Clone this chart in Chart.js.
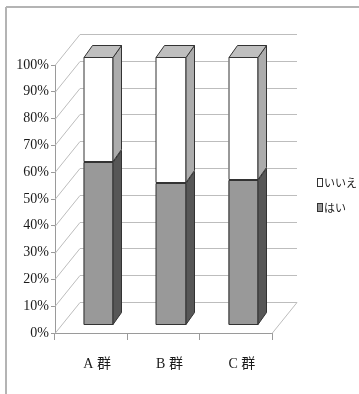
<!DOCTYPE html>
<html>
<head>
<meta charset="utf-8">
<style>
  html, body { margin: 0; padding: 0; background: #ffffff; }
  canvas { display: block; }
</style>
<script src="https://cdn.jsdelivr.net/npm/chart.js@4/dist/chart.umd.min.js"></script>
</head>
<body>
<canvas id="chart" width="359" height="394"></canvas>
<script>
// Survey answers per group, shown as 100% stacked 3D columns
const categories = ['A 群', 'B 群', 'C 群'];
const seriesNames = ['はい', 'いいえ'];
const yesValues = [61, 53, 54];
const noValues = [39, 47, 46];
const percentTicks = [0, 10, 20, 30, 40, 50, 60, 70, 80, 90, 100];

// Oblique projection offsets for the 3D look
const WALL_DEPTH = { dx: 25, dy: -31 };   // floor / side wall depth
const BAR_FRONT = { dx: 7.5, dy: -8 };    // bars sit a little behind the front plane
const BAR_DEPTH = { dx: 8.5, dy: -12 };   // thickness of each column

const serif = "'Liberation Serif', 'DejaVu Serif', 'Noto Sans CJK JP', serif";
const faces = [
  { front: '#999999', side: '#575757', top: '#bfbfbf' },
  { front: '#ffffff', side: '#acacac', top: '#bfbfbf' }
];
const edgeColor = '#333333';
const wallColor = '#bdbdbd';

function line(ctx, x1, y1, x2, y2) {
  ctx.beginPath();
  ctx.moveTo(x1, y1);
  ctx.lineTo(x2, y2);
  ctx.stroke();
}

function poly(ctx, pts, fill) {
  ctx.beginPath();
  ctx.moveTo(pts[0][0], pts[0][1]);
  for (let i = 1; i < pts.length; i++) ctx.lineTo(pts[i][0], pts[i][1]);
  ctx.closePath();
  if (fill) {
    ctx.fillStyle = fill;
    ctx.fill();
  }
  ctx.stroke();
}

const box3d = {
  id: 'box3d',
  beforeDraw(chart) {
    const ctx = chart.ctx;
    ctx.save();
    ctx.fillStyle = '#ffffff';
    ctx.fillRect(0, 0, chart.width, chart.height);
    // outer frame of the chart object
    ctx.strokeStyle = '#b4b4b4';
    ctx.lineWidth = 2;
    line(ctx, 6, 7, chart.width + 2, 7);
    line(ctx, 6, 7, 6, chart.height + 2);
    ctx.restore();
  },
  beforeDatasetsDraw(chart) {
    const ctx = chart.ctx;
    const area = chart.chartArea;
    const y = chart.scales.y;
    ctx.save();
    ctx.strokeStyle = wallColor;
    ctx.lineWidth = 1;
    percentTicks.forEach(v => {
      const py = Math.round(y.getPixelForValue(v)) + 0.5;
      const bx = area.left + WALL_DEPTH.dx;
      const by = py + WALL_DEPTH.dy;
      line(ctx, area.left, py, bx, by);                          // side wall
      line(ctx, bx, by, area.right + WALL_DEPTH.dx, by);          // back wall
    });
    // right edge of the floor
    const fy = Math.round(y.getPixelForValue(0)) + 0.5;
    line(ctx, area.right, fy, area.right + WALL_DEPTH.dx, fy + WALL_DEPTH.dy);
    ctx.restore();

    // front faces of the columns are drawn by Chart.js in this shifted frame
    ctx.save();
    ctx.translate(BAR_FRONT.dx, BAR_FRONT.dy);
  },
  afterDatasetsDraw(chart) {
    const ctx = chart.ctx;
    const last = chart.data.datasets.length - 1;
    ctx.lineWidth = 1;
    ctx.strokeStyle = edgeColor;
    ctx.lineJoin = 'miter';
    chart.data.datasets.forEach((ds, di) => {
      const meta = chart.getDatasetMeta(di);
      meta.data.forEach(bar => {
        const p = bar.getProps(['x', 'y', 'base', 'width'], true);
        const l = Math.round(p.x - p.width / 2) + 0.5, r = Math.round(p.x + p.width / 2) - 0.5;
        const top = Math.round(Math.min(p.y, p.base)) + 0.5;
        const bottom = Math.round(Math.max(p.y, p.base)) - 0.5;
        // crisp outline of the front face
        poly(ctx, [[l, top], [r, top], [r, bottom], [l, bottom]], null);
        poly(ctx, [
          [r, top], [r + BAR_DEPTH.dx, top + BAR_DEPTH.dy],
          [r + BAR_DEPTH.dx, bottom + BAR_DEPTH.dy], [r, bottom]
        ], faces[di].side);
        if (di === last) {
          poly(ctx, [
            [l, top], [l + BAR_DEPTH.dx, top + BAR_DEPTH.dy],
            [r + BAR_DEPTH.dx, top + BAR_DEPTH.dy], [r, top]
          ], faces[di].top);
        }
      });
    });
    ctx.restore();
  },
  afterDraw(chart) {
    // legend, listed top series first
    const ctx = chart.ctx;
    ctx.save();
    ctx.font = "11px 'Noto Sans CJK JP', sans-serif";
    ctx.textBaseline = 'middle';
    ctx.textAlign = 'left';
    const rows = [183, 208];
    const order = chart.data.datasets.map((d, i) => i).reverse();
    order.forEach((di, k) => {
      const ds = chart.data.datasets[di];
      const yy = rows[k];
      ctx.fillStyle = ds.backgroundColor;
      ctx.strokeStyle = edgeColor;
      ctx.lineWidth = 1;
      ctx.fillRect(317.5, yy - 4.5, 5, 8);
      ctx.strokeRect(317.5, yy - 4.5, 5, 8);
      ctx.fillStyle = '#222222';
      ctx.fillText(ds.label, 324, yy);
    });
    ctx.restore();
  }
};

new Chart(document.getElementById('chart'), {
  type: 'bar',
  data: {
    labels: categories,
    datasets: [
      {
        label: seriesNames[0], data: yesValues,
        backgroundColor: faces[0].front, borderColor: edgeColor,
        borderWidth: 0, clip: false
      },
      {
        label: seriesNames[1], data: noValues,
        backgroundColor: faces[1].front, borderColor: edgeColor,
        borderWidth: 0, clip: false
      }
    ]
  },
  options: {
    responsive: false,
    animation: false,
    devicePixelRatio: 1,
    layout: { padding: { top: 65, right: 87, bottom: 0, left: 0 } },
    datasets: { bar: { barPercentage: 0.83, categoryPercentage: 0.5 } },
    plugins: { legend: { display: false }, tooltip: { enabled: false } },
    scales: {
      x: {
        stacked: true,
        grid: { display: true, drawOnChartArea: false, drawTicks: true, tickLength: 7, color: '#9a9a9a', offset: true },
        border: { display: true, color: '#9a9a9a' },
        ticks: { font: { family: serif, size: 14 }, color: '#1a1a1a', padding: 16, labelOffset: 6, maxRotation: 0 },
        afterFit(s) { s.height = 61; }
      },
      y: {
        stacked: true,
        min: 0,
        max: 100,
        afterBuildTicks(s) { s.ticks = percentTicks.map(v => ({ value: v })); },
        ticks: { font: { family: serif, size: 14 }, color: '#1a1a1a', padding: 2, callback: v => v + '%' },
        grid: { display: true, drawOnChartArea: false, drawTicks: true, tickLength: 4, color: '#9a9a9a' },
        border: { display: true, color: '#9a9a9a' },
        afterFit(s) { s.width = 55; }
      }
    }
  },
  plugins: [box3d]
});
</script>
</body>
</html>
